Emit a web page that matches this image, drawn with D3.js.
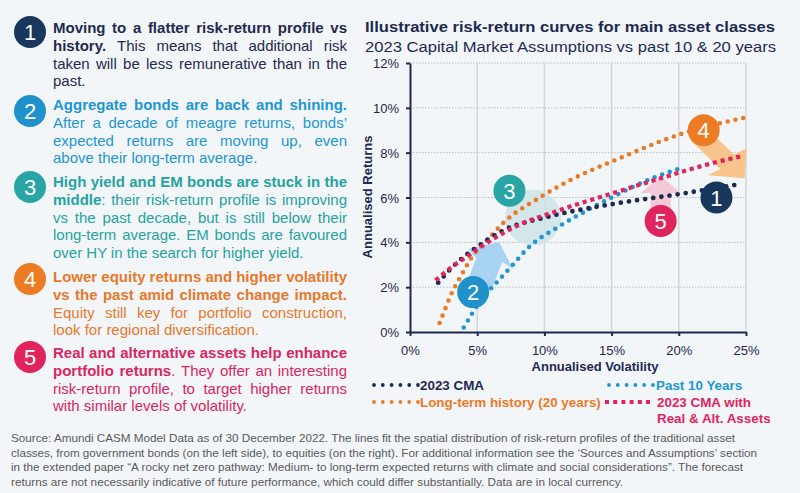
<!DOCTYPE html>
<html><head><meta charset="utf-8">
<script src="https://cdn.jsdelivr.net/npm/d3@7"></script>
<style>
html,body{margin:0;padding:0;background:#f3f6f9;}
svg{display:block;font-family:"Liberation Sans",Arial,Helvetica,sans-serif;}
</style></head><body>
<svg id="c" width="800" height="493"></svg>
<script>
// ---------- DATA ----------
const volTicks = [0, 5, 10, 15, 20, 25];
const retTicks = [0, 2, 4, 6, 8, 10, 12];
const seriesNames = ["2023 CMA", "Past 10 Years", "Long-term history (20 years)", "2023 CMA with Real & Alt. Assets"];
// [annualised volatility %, annualised return %]
const cma2023 = [[2.1,2.2],[3,2.8],[4,3.35],[5,3.8],[7,4.55],[10,5.1],[15,5.7],[20,6.15],[24.6,6.6]];
const past10y = [[4.0,0.2],[4.7,0.9],[5.5,1.6],[6.2,2.05],[7.8,3.1],[8.7,3.7],[11.2,4.75],[13.4,5.5],[15,6.0],[18.2,6.9],[20.1,7.3]];
const longTerm20y = [[2.2,0.4],[2.6,1.0],[3.0,1.6],[3.7,2.4],[4.8,3.5],[5.6,4.0],[7,4.9],[9.8,6.05],[12,6.8],[15.4,7.7],[20,8.8],[24.8,9.55]];
const cmaRealAlt = [[1.9,2.3],[3,2.85],[4.2,3.35],[5.4,3.85],[7.5,4.6],[11.2,5.45],[15.4,6.25],[18.6,6.85],[22.3,7.5],[24.7,7.85]];
// chart annotation badges: [label, vol, ret]
const badgeLabels = ["1", "2", "3", "4", "5"];
const badgeVol = [22.8, 4.7, 7.4, 21.85, 18.65];
const badgeRet = [6.0, 1.78, 6.3, 9.0, 4.95];
const haloVol = 9.15, haloRet = 5.1;

const titleText = "Illustrative risk-return curves for main asset classes";
const subtitleText = "2023 Capital Market Assumptions vs past 10 & 20 years";
const xTitle = "Annualised Volatility";
const yTitle = "Annualised Returns";

const paragraphs = [
  ["*Moving to a flatter risk-return profile vs", "history.* This means that additional risk", "taken will be less remunerative than in the", "past."],
  ["*Aggregate bonds are back and shining.*", "After a decade of meagre returns, bonds’", "expected returns are moving up, even", "above their long-term average."],
  ["*High yield and EM bonds are stuck in the", "middle*: their risk-return profile is improving", "vs the past decade, but is still below their", "long-term average. EM bonds are favoured", "over HY in the search for higher yield."],
  ["*Lower equity returns and higher volatility", "vs the past amid climate change impact.*", "Equity still key for portfolio construction,", "look for regional diversification."],
  ["*Real and alternative assets help enhance", "portfolio returns*. They offer an interesting", "risk-return profile, to target higher returns", "with similar levels of volatility."]
];
const sourceLines = [
  "Source: Amundi CASM Model Data as of 30 December 2022. The lines fit the spatial distribution of risk-return profiles of the traditional asset",
  "classes, from government bonds (on the left side), to equities (on the right). For additional information see the ‘Sources and Assumptions’ section",
  "in the extended paper “A rocky net zero pathway: Medium- to long-term expected returns with climate and social considerations”. The forecast",
  "returns are not necessarily indicative of future performance, which could differ substantially. Data are in local currency."
];

// ---------- STYLE ----------
const C = {navy:"#1c2a52", badgeNavy:"#17385c", blue:"#2196d3", teal:"#27a6a4", orange:"#ec7a25", pink:"#e0245e", grid:"#d3d6da", text:"#1f2748"};
const paraColors = ["#1f2a4e", "#2196d3", "#25a3a0", "#e8782a", "#d92660"];
const badgeColors = [C.badgeNavy, "#1f92cc", "#2aa5a6", "#ec7b23", "#e0245e"];

const svg = d3.select("#c");
svg.append("rect").attr("width",800).attr("height",493).attr("fill","#f3f6f9");

// ---------- LEFT PANEL ----------
const paraY = [33, 110, 187, 282, 358];
const badgeLeftY = [32, 111, 187, 279, 357];
const LH = 17.8, FS = 15, X0 = 53, W = 294;
const left = svg.append("g");
paragraphs.forEach((lines, pi) => {
  let bold = false;
  lines.forEach((line, li) => {
    const isLast = li === lines.length - 1;
    const t = left.append("text").attr("y", paraY[pi] + li * LH).attr("fill", paraColors[pi]).style("font-size", FS + "px");
    const words = line.split(" ");
    const wordEls = words.map(w => {
      const pieces = []; let cur = "";
      for (const ch of w) {
        if (ch === "*") { if (cur) pieces.push([cur, bold]); cur = ""; bold = !bold; }
        else cur += ch;
      }
      if (cur) pieces.push([cur, bold]);
      return pieces.map(p => t.append("tspan").text(p[0]).style("font-weight", p[1] ? "bold" : "normal"));
    });
    const widths = wordEls.map(sp => d3.sum(sp, s => s.node().getComputedTextLength()));
    const gap = isLast ? FS * 0.278 : (W - d3.sum(widths)) / (words.length - 1);
    let x = X0;
    wordEls.forEach((sp, i) => { sp[0].attr("x", x); x += widths[i] + gap; });
  });
  const b = left.append("g").attr("transform", `translate(30,${badgeLeftY[pi]})`);
  b.append("circle").attr("r", 16).attr("fill", badgeColors[pi]);
  b.append("text").attr("text-anchor","middle").attr("y", 8).attr("fill","#fff").style("font-size","22px").text(badgeLabels[pi]);
});

// ---------- CHART ----------
const x = d3.scaleLinear().domain([0, 25]).range([410, 746]);
const y = d3.scaleLinear().domain([0, 12]).range([332, 63]);

svg.append("text").attr("x",365).attr("y",32).attr("fill",C.navy).style("font-size","15.5px").style("font-weight","bold")
  .attr("textLength",410).attr("lengthAdjust","spacingAndGlyphs").text(titleText);
svg.append("text").attr("x",365).attr("y",52).attr("fill",C.navy).style("font-size","15.5px")
  .attr("textLength",411).attr("lengthAdjust","spacingAndGlyphs").text(subtitleText);

const grid = svg.append("g");
grid.selectAll("line.v").data(volTicks.filter(d => d > 0)).join("line")
  .attr("x1", d => x(d)).attr("x2", d => x(d)).attr("y1", y(12)).attr("y2", y(0))
  .attr("stroke", C.grid).attr("stroke-width", 1.5);
grid.selectAll("line.h").data(retTicks.filter(d => d > 0)).join("line")
  .attr("x1", x(0)).attr("x2", x(25)).attr("y1", d => y(d)).attr("y2", d => y(d))
  .attr("stroke", "#b9bcc2").attr("stroke-width", 1).attr("stroke-dasharray", "1.5,1.5");

const xAxis = svg.append("g").attr("transform", `translate(0,${y(0)})`)
  .call(d3.axisBottom(x).tickValues(volTicks).tickFormat(d => d + "%").tickSize(4).tickSizeOuter(0));
const yAxis = svg.append("g").attr("transform", `translate(${x(0)},0)`)
  .call(d3.axisLeft(y).tickValues(retTicks).tickFormat(d => d + "%").tickSize(4).tickSizeOuter(0));
[xAxis, yAxis].forEach(a => {
  a.select(".domain").attr("stroke", C.navy).attr("stroke-width", 2);
  a.selectAll(".tick line").attr("stroke", C.navy).attr("stroke-width", 2);
  a.selectAll(".tick text").attr("fill", C.text).style("font-size", "13px").style("font-family", '"Liberation Sans",Arial,sans-serif');
});
xAxis.selectAll(".tick text").attr("dy", "1.25em");
yAxis.selectAll(".tick text").attr("x", -11).attr("dy", "0.35em");

svg.append("text").attr("x", 595).attr("y", 371).attr("text-anchor","middle").attr("fill",C.navy)
  .style("font-size","13px").style("font-weight","bold").text(xTitle);
svg.append("text").attr("transform","translate(372,197) rotate(-90)").attr("text-anchor","middle").attr("fill",C.navy)
  .style("font-size","13px").style("font-weight","bold").text(yTitle);

// annotation backgrounds (halo + arrows), under the curves
const ann = svg.append("g");
ann.append("circle").attr("cx", x(haloVol)).attr("cy", y(haloRet)).attr("r", 28).attr("fill", "#cde4e8").attr("opacity", 0.85);
function arrow(cx, cy, pts, fill) {
  ann.append("polygon").attr("points", pts.map(p => [cx + p[0], cy + p[1]].join(",")).join(" ")).attr("fill", fill);
}
// arrow from badge 2 (up-right)
arrow(x(badgeVol[1]), y(badgeRet[1]), [[-7,-7],[3,-34],[-5,-43],[26,-50],[40,-23],[29,-30],[19,-4]], "#a9d4f1");
// arrow from badge 4 (down-right)
arrow(x(badgeVol[3]), y(badgeRet[3]), [[1.6,-3.3],[30.4,24.3],[43,18],[41,48],[4,45],[16.6,38.7],[-12.2,11.1]], "#f9c38c");
// arrow from badge 5 (up)
arrow(x(badgeVol[4]), y(badgeRet[4]), [[-10,-6],[-10,-28],[-20,-28],[0,-45],[20,-28],[10,-28],[10,-6]], "#f5c8d7");

// curves
const line = d3.line().x(d => x(d[0])).y(d => y(d[1])).curve(d3.curveMonotoneX);
const curves = svg.append("g").attr("fill","none");
curves.append("path").datum(longTerm20y).attr("d", line).attr("stroke", C.orange).attr("stroke-width", 4.6)
  .attr("stroke-linecap","round").attr("stroke-dasharray","0 8");
curves.append("path").datum(past10y).attr("d", line).attr("stroke", C.blue).attr("stroke-width", 4.6)
  .attr("stroke-linecap","round").attr("stroke-dasharray","0 8");
curves.append("path").datum(cma2023).attr("d", line).attr("stroke", C.navy).attr("stroke-width", 4.8)
  .attr("stroke-linecap","round").attr("stroke-dasharray","0 8.2");
curves.append("path").datum(cmaRealAlt).attr("d", line).attr("stroke", C.pink).attr("stroke-width", 4.2)
  .attr("stroke-linecap","butt").attr("stroke-dasharray","4.2 3.8");

// badges in chart
badgeLabels.forEach((lab, i) => {
  const g = svg.append("g").attr("transform", `translate(${x(badgeVol[i])},${y(badgeRet[i])})`);
  g.append("circle").attr("r", 16).attr("fill", badgeColors[i]);
  g.append("text").attr("text-anchor","middle").attr("y", 8).attr("fill","#fff").style("font-size","22px").text(lab);
});

// legend
const leg = svg.append("g");
const legItems = [
  {name: seriesNames[0], color: C.navy, x: 374, y: 385, square: false, lx: 420},
  {name: seriesNames[1], color: C.blue, x: 609, y: 385, square: false, lx: 656},
  {name: seriesNames[2], color: C.orange, x: 374, y: 402, square: false, lx: 420},
  {name: seriesNames[3], color: C.pink, x: 607, y: 402, square: true, lx: 657}
];
legItems.forEach(it => {
  const idx = d3.range(6);
  if (it.square) {
    leg.selectAll(null).data(idx).join("rect").attr("x", i => it.x + i * 8.2 - 2).attr("y", it.y - 2).attr("width", 4).attr("height", 4).attr("fill", it.color);
  } else {
    leg.selectAll(null).data(idx).join("circle").attr("cx", i => it.x + i * 8.8).attr("cy", it.y).attr("r", 1.9).attr("fill", it.color);
  }
  const words = it.square ? ["2023 CMA with", "Real & Alt. Assets"] : [it.name];
  words.forEach((w, k) => {
    leg.append("text").attr("x", it.lx).attr("y", it.y + 5 + k * 16).attr("fill", it.color)
      .style("font-size","13.4px").style("font-weight","bold").text(w);
  });
});

// source
const srcW = [724, 746, 732, 612];
sourceLines.forEach((s, i) => {
  svg.append("text").attr("x", 11).attr("y", 442 + i * 14.6).attr("fill", "#595959").style("font-size","11.5px")
    .attr("textLength", srcW[i]).attr("lengthAdjust","spacingAndGlyphs").text(s);
});
</script>
</body></html>
